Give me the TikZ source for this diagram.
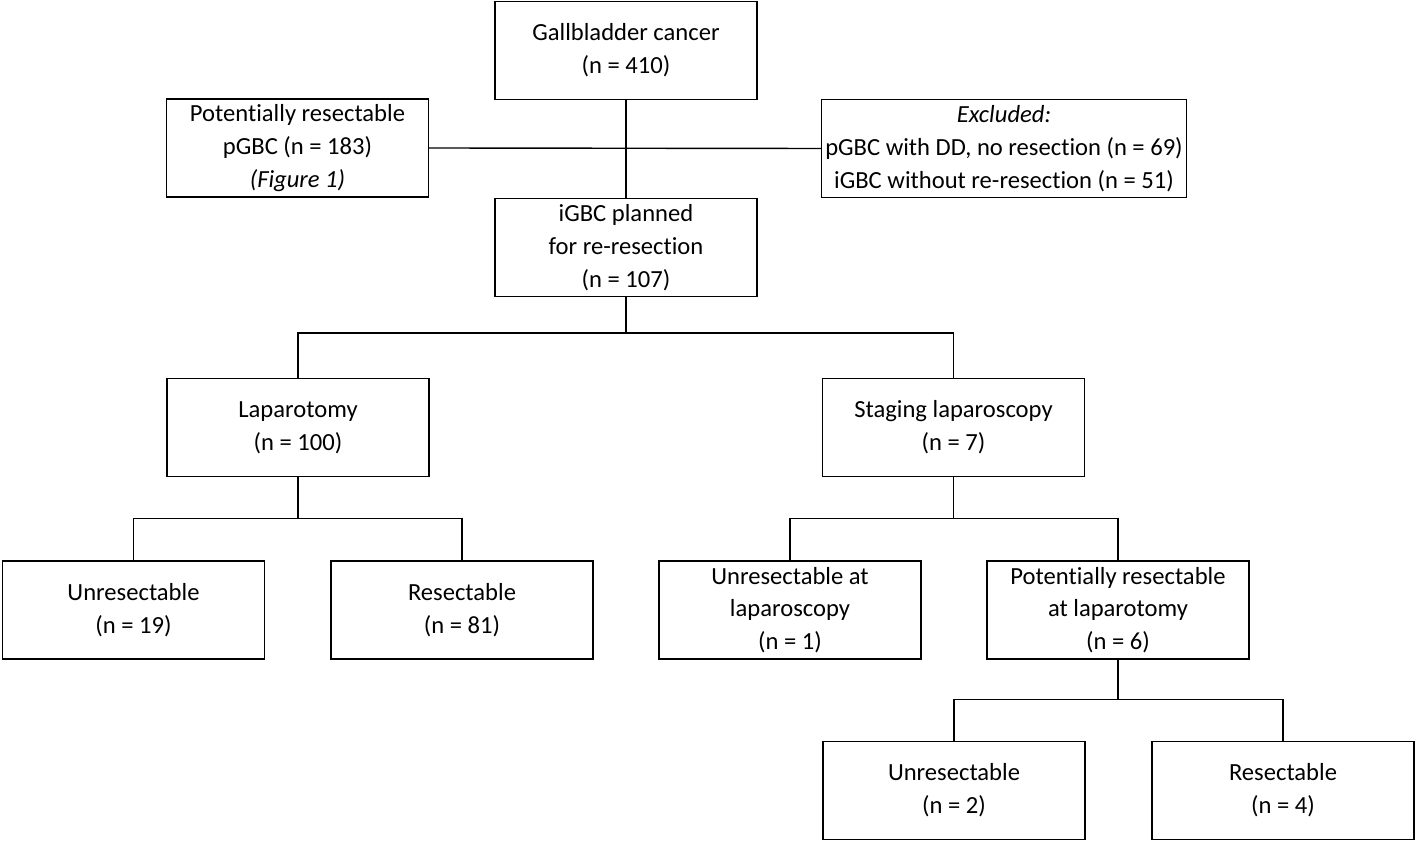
\documentclass[tikz,border=0pt]{standalone}
\usepackage{fontspec}
\setmainfont{Carlito}[Ligatures=NoCommon]
\begin{document}
\begin{tikzpicture}
\tikzset{
    box/.style={draw, line width=0.8pt, minimum width=5.24cm, minimum height=1.96cm,
        align=center, inner sep=2pt, font=\fontsize{14}{18.6}\selectfont},
    widebox/.style={box, minimum width=7.24cm},
    link/.style={line width=0.8pt}}

\useasboundingbox (0,0) rectangle (28.32,-16.84);

% top row
\node[box] (gbc) at (12.52,-1.01) {Gallbladder cancer\\(n = 410)};
\node[box] (pot) at (5.95,-2.96) {Potentially resectable\\pGBC (n = 183)\\\textit{(Figure 1)}};
\node[widebox] (excl) at (20.08,-2.97) {\textit{Excluded:}\\pGBC with DD, no resection (n = 69)\\iGBC without re-resection (n = 51)};
\node[box] (igbc) at (12.52,-4.95) {iGBC planned\\for re-resection\\(n = 107)};

% second level
\node[box] (lap) at (5.96,-8.55) {Laparotomy\\(n = 100)};
\node[box] (stag) at (19.07,-8.55) {Staging laparoscopy\\(n = 7)};

% third level
\node[box] (unrA) at (2.67,-12.2) {Unresectable\\(n = 19)};
\node[box] (resA) at (9.24,-12.2) {Resectable\\(n = 81)};
\node[box] (unrlap) at (15.80,-12.2) {Unresectable at\\laparoscopy\\(n = 1)};
\node[box] (potlap) at (22.36,-12.2) {Potentially resectable\\at laparotomy\\(n = 6)};

% last level
\node[box] (unrB) at (19.08,-15.81) {Unresectable\\(n = 2)};
\node[box] (resB) at (25.66,-15.81) {Resectable\\(n = 4)};

% connectors
\draw[link] (gbc.south) -- (igbc.north);
\draw[link] (pot.east) -- (excl.west);

\draw[link] (igbc.south) -- ++(0,-0.72) coordinate (f1);
\draw[link] (f1) -| (lap.north);
\draw[link] (f1) -| (stag.north);

\draw[link] (lap.south) -- ++(0,-0.82) coordinate (f2);
\draw[link] (f2) -| (unrA.north);
\draw[link] (f2) -| (resA.north);

\draw[link] (stag.south) -- ++(0,-0.82) coordinate (f3);
\draw[link] (f3) -| (unrlap.north);
\draw[link] (f3) -| (potlap.north);

\draw[link] (potlap.south) -- ++(0,-0.80) coordinate (f4);
\draw[link] (f4) -| (unrB.north);
\draw[link] (f4) -| (resB.north);

\end{tikzpicture}
\end{document}
